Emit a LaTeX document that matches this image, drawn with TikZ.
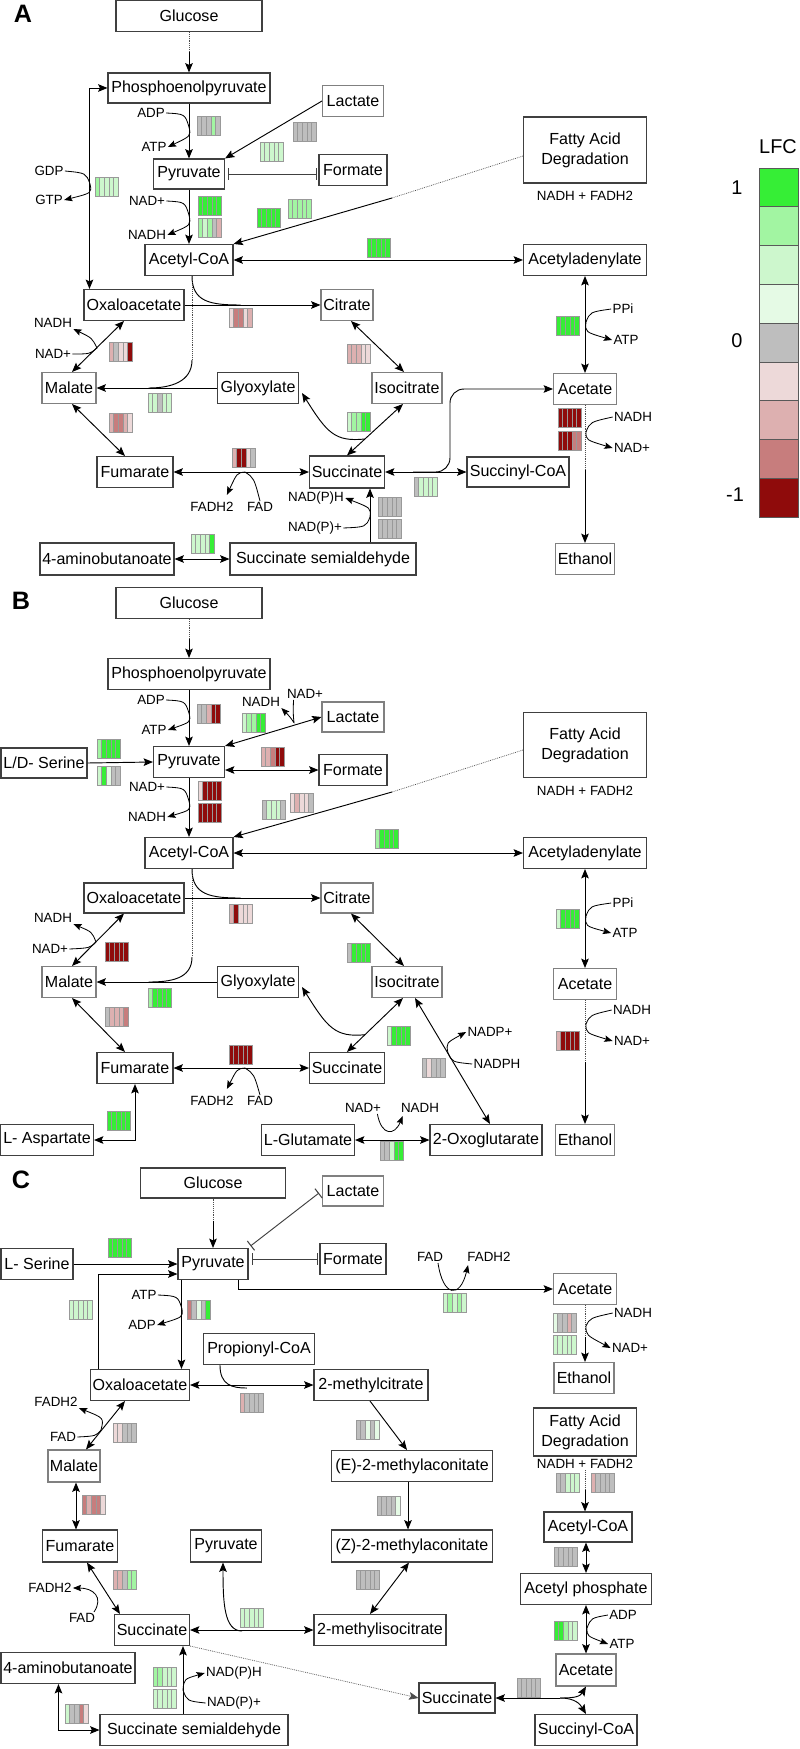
\documentclass[tikz,border=0pt]{standalone}
\usepackage{fontspec}
\setmainfont{Liberation Sans}
\usepackage{xcolor}
\usetikzlibrary{arrows.meta,calc}
\definecolor{g4}{HTML}{36EE36}
\definecolor{g3}{HTML}{A2F5A2}
\definecolor{g2}{HTML}{CDF7CD}
\definecolor{g1}{HTML}{E5FAE5}
\definecolor{n0}{HTML}{BEBEBE}
\definecolor{r1}{HTML}{EDD9D9}
\definecolor{r2}{HTML}{DDB0B0}
\definecolor{r3}{HTML}{C77D7D}
\definecolor{r4}{HTML}{8F0B0B}
% one LFC bar: left, top, five stripe colours
\newcommand{\lfcbar}[3]{%
  \foreach \cl [count=\i from 0] in {#3}
    \filldraw[fill=\cl,draw=black!40,line width=0.3pt] (#1+\i*4.6,#2) rectangle ++(4.6,19);
}

\begin{document}
\begin{tikzpicture}[x=0.03cm,y=-0.03cm,
  >={Stealth[length=8pt,width=6.5pt,inset=1.5pt]},
  met/.style={draw=black!75,line width=0.9pt,inner sep=0pt,
    minimum height=0.93cm,font=\fontsize{13.7}{17}\selectfont},
  metl/.style={met,draw=black!50},
  mw/.style={minimum width=#1*0.03cm},
  mh/.style={minimum height=#1*0.03cm},
  lab/.style={inner sep=1pt,font=\fontsize{11.4}{13}\selectfont},
  leg/.style={inner sep=0pt,font=\fontsize{17}{18}\selectfont},
  panel/.style={inner sep=0pt,font=\bfseries\fontsize{21.5}{22}\selectfont},
  rxn/.style={->,line width=0.8pt},
  both/.style={<->,line width=0.8pt},
  cof/.style={-{Stealth[length=7pt,width=5.5pt,inset=1.2pt]},line width=0.7pt},
  dot/.style={line width=0.6pt,dash pattern=on 0.7pt off 0.9pt,draw=black!70},
  inh/.style={{Bar[width=10pt,line width=0.9pt]}-{Bar[width=10pt,line width=0.9pt]},draw=black!75,line width=0.8pt}]
\useasboundingbox (0,0) rectangle (799,1749);

% ---------------- A ----------------
\node[panel] (pA) at (23,14) {A};
\node[met,mw=146] (glcA) at (189,16) {Glucose};
\node[met,mw=162,mh=30] (pepA) at (189,88) {Phosphoenolpyruvate};
\node[metl,mw=61] (latA) at (353,101) {Lactate};
\node[met,mw=71,mh=30] (pyrA) at (189,174) {Pyruvate};
\node[met,mw=68] (forA) at (353,170) {Formate};
\node[met,mw=123,mh=66,align=center] (fadA) at (585,150) {Fatty Acid\\Degradation};
\node[lab] (fadtA) at (585,196) {NADH + FADH2};
\node[met,mw=88] (acoA) at (189,260) {Acetyl-CoA};
\node[met,mw=123] (aadA) at (585,260) {Acetyladenylate};
\node[met,mw=100] (oaaA) at (134,305) {Oxaloacetate};
\node[metl,mw=52] (citA) at (347,305) {Citrate};
\node[metl,mw=54] (malA) at (69,388) {Malate};
\node[met,mw=81] (glxA) at (258,388) {Glyoxylate};
\node[metl,mw=70] (icitA) at (407,388) {Isocitrate};
\node[metl,mw=63] (actA) at (585,389) {Acetate};
\node[met,mw=76] (fumA) at (135,472) {Fumarate};
\node[met,mw=75,mh=32] (sucA) at (347,472) {Succinate};
\node[met,mw=102,mh=30] (scoA) at (518,472) {Succinyl-CoA};
\node[met,mw=134,mh=32] (gabA) at (107,559) {4-aminobutanoate};
\node[met,mw=186,mh=32] (ssaA) at (323,559) {Succinate semialdehyde};
\node[metl,mw=59] (ethA) at (585,559) {Ethanol};
\node[lab] (adpA) at (151,113) {ADP};
\node[lab] (atpA) at (154,147) {ATP};
\node[lab] (gdpA) at (49,171) {GDP};
\node[lab] (gtpA) at (49,200) {GTP};
\node[lab] (nadA1) at (147,201) {NAD+};
\node[lab] (nadhA1) at (147,235) {NADH};
\node[lab] (ppiA) at (623,309) {PPi};
\node[lab] (atpA2) at (626,340) {ATP};
\node[lab] (nadhA2) at (53,323) {NADH};
\node[lab] (nadA2) at (53,354) {NAD+};
\node[lab] (nadhA3) at (633,417) {NADH};
\node[lab] (nadA3) at (632,448) {NAD+};
\node[lab] (fadhA) at (212,507) {FADH2};
\node[lab] (fadlA) at (260,507) {FAD};
\node[lab] (npdhA) at (316,498) {NAD(P)H};
\node[lab] (npdA) at (315,528) {NAD(P)+};
% glycolysis side
\draw[dot] (glcA.south) -- ++(0,20) coordinate (gpA);
\draw[rxn] (gpA) -- (pepA.north);
\draw[rxn] (pepA.south) -- (pyrA.north);
\draw[cof] (adpA.east) .. controls (185,114) .. (189,127) .. controls (191,136) .. (atpA.east);
\draw[rxn] (latA.west) -- (pyrA.north east);
\draw[inh] ($(pyrA.east)+(3,0)$) -- ($(pyrA.east -| forA.west)+(-1,0)$);
\draw[both] ($(oaaA.north west)+(6,0)$) |- (pepA.west);
\draw[cof] (gdpA.east) .. controls (86,173) .. (90,184) .. controls (92,193) .. (gtpA.east);
\draw[rxn] (pyrA.south) -- (acoA.north);
\draw[cof] (nadA1.east) .. controls (185,202) .. (189,215) .. controls (191,225) .. (nadhA1.east);
\draw[dot] ($(fadA.west)+(0,6)$) -- (392,198) coordinate (fdA);
\draw[rxn] (fdA) -- (acoA.north east);
\draw[both] (acoA.east) -- (aadA.west);
\draw[both] (aadA.south) -- (actA.north);
\draw[cof] (ppiA.west) .. controls (590,312) .. (586,322) .. controls (585,332) .. (atpA2.west);
\draw[dot] (actA.south) -- ++(0,65) coordinate (aeA);
\draw[rxn] (aeA) -- (ethA.north);
\draw[cof] (nadhA3.west) .. controls (590,422) .. (586,432) .. controls (586,440) .. (nadA3.west);
% cycle
\draw[rxn] (oaaA.east) -- (citA.west);
\draw[line width=0.8pt] ($(acoA.south)+(3,0)$) .. controls +(0,26) and +(-30,0) .. ($(oaaA.east)+(56,0)$);
\draw[rxn] (glxA.west) -- (malA.east);
\draw[dot] ($(acoA.south)+(3,0)$) -- ++(0,84) coordinate (dkA);
\draw[line width=0.8pt] (dkA) .. controls +(0,22) and +(22,0) .. ($(malA.east)+(52,0)$);
\draw[both] ($(malA.north)+(3,0)$) -- ($(oaaA.south)+(-10,0)$);
\draw[cof] (nadA2.east) .. controls (90,354) .. (97,348) .. controls (92,338) .. (nadhA2.south east);
\draw[both] ($(malA.south)+(3,0)$) -- ($(fumA.north)+(-10,0)$);
\draw[both] (fumA.east) -- (sucA.west);
\draw[cof] (fadlA.north) .. controls (254,478) .. (245,472) .. controls (237,473) .. ($(fadhA.north east)+(-8,-6)$);
\draw[both] ($(citA.south)+(4,0)$) -- ($(icitA.north)+(-3,0)$);
\coordinate (isA) at ($(icitA.south)+(-4,0)$);
\draw[both] (isA) -- (sucA.north);
\draw[rxn] ($(isA)!0.68!(sucA.north)$) .. controls +(-30,3) and +(25,40) .. ($(glxA.east)+(3,5)$);
\draw[both] (sucA.east) -- (scoA.west);
\draw[rxn,rounded corners=12pt] ($(sucA.east)+(28,0)$) -| ($(actA.west)+(-103,0)$) -- (actA.west);
\coordinate (ssA) at ($(ssaA.north)+(47,0)$);
\draw[rxn] (ssA) -- (ssA |- sucA.south);
\draw[cof] (npdA.east) .. controls (366,527) .. (370,517) .. controls (371,508) .. (npdhA.east);
\draw[both] (gabA.east) -- (ssaA.west);
\lfcbar{197}{116}{n0,n0,n0,g3,n0}
\lfcbar{293}{122}{n0,n0,n0,n0,n0}
\lfcbar{260}{142}{g2,g2,g2,g2,g2}
\lfcbar{95}{177}{g3,g2,g2,g2,g2}
\lfcbar{198}{196}{g4,g4,g4,g4,g4}
\lfcbar{198}{218}{g3,g2,g3,n0,r2}
\lfcbar{257}{208}{g4,g4,g4,g4,g4}
\lfcbar{288}{199}{g3,g3,g3,g3,g3}
\lfcbar{367}{238}{g4,g4,g4,g4,g4}
\lfcbar{556}{316}{g4,g4,g4,g4,g4}
\lfcbar{229}{308}{r1,r3,r3,r1,r2}
\lfcbar{109}{342}{r2,n0,r1,r1,r4}
\lfcbar{148}{393}{g2,g2,n0,g2,g2}
\lfcbar{109}{413}{r2,r3,r3,r2,r1}
\lfcbar{347}{344}{r2,r2,r2,r1,r1}
\lfcbar{347}{412}{g2,g3,g3,g4,g4}
\lfcbar{232}{448}{r2,r4,r4,r1,n0}
\lfcbar{558}{408}{r4,r4,r4,r4,r4}
\lfcbar{558}{431}{r4,r4,r4,r3,r3}
\lfcbar{414}{477}{n0,g2,g2,g2,g2}
\lfcbar{378}{497}{n0,n0,n0,n0,n0}
\lfcbar{378}{519}{n0,n0,n0,n0,n0}
\lfcbar{191}{534}{g2,g2,g2,g2,g4}

% ---------------- B ----------------
\node[panel] (pB) at (21,601) {B};
\node[met,mw=146] (glcB) at (189,603) {Glucose};
\node[met,mw=162] (pepB) at (189,674) {Phosphoenolpyruvate};
\node[metl,mw=62,mh=30] (latB) at (353,717) {Lactate};
\node[met,mw=86,mh=30] (serB) at (44,763) {L/D- Serine};
\node[met,mw=71] (pyrB) at (189,762) {Pyruvate};
\node[met,mw=68] (forB) at (353,770) {Formate};
\node[met,mw=123,mh=65,align=center] (fadB) at (585,745) {Fatty Acid\\Degradation};
\node[lab] (fadtB) at (585,791) {NADH + FADH2};
\node[met,mw=88] (acoB) at (189,853) {Acetyl-CoA};
\node[met,mw=123] (aadB) at (585,853) {Acetyladenylate};
\node[met,mw=100,mh=30] (oaaB) at (134,898) {Oxaloacetate};
\node[metl,mw=52,mh=30] (citB) at (347,898) {Citrate};
\node[metl,mw=54] (malB) at (69,982) {Malate};
\node[met,mw=81] (glxB) at (258,982) {Glyoxylate};
\node[metl,mw=70] (icitB) at (407,982) {Isocitrate};
\node[metl,mw=63] (actB) at (585,984) {Acetate};
\node[met,mw=76] (fumB) at (135,1068) {Fumarate};
\node[met,mw=75] (sucB) at (347,1068) {Succinate};
\node[met,mw=93] (aspB) at (47,1140) {L- Aspartate};
\node[met,mw=93] (gluB) at (308,1140) {L-Glutamate};
\node[met,mw=112] (oxgB) at (486,1140) {2-Oxoglutarate};
\node[metl,mw=59] (ethB) at (585,1140) {Ethanol};
\node[lab] (adpB) at (151,700) {ADP};
\node[lab] (atpB) at (154,730) {ATP};
\node[lab] (nadhB1) at (261,702) {NADH};
\node[lab] (nadB1) at (305,694) {NAD+};
\node[lab] (nadB2) at (147,787) {NAD+};
\node[lab] (nadhB2) at (147,817) {NADH};
\node[lab] (ppiB) at (623,903) {PPi};
\node[lab] (atpB2) at (625,933) {ATP};
\node[lab] (nadhB3) at (53,918) {NADH};
\node[lab] (nadB3) at (50,949) {NAD+};
\node[lab] (nadhB4) at (632,1010) {NADH};
\node[lab] (nadB4) at (632,1041) {NAD+};
\node[lab] (fadhB) at (212,1101) {FADH2};
\node[lab] (fadlB) at (260,1101) {FAD};
\node[lab] (nadpB) at (490,1032) {NADP+};
\node[lab] (nadphB) at (497,1064) {NADPH};
\node[lab] (nadB5) at (363,1108) {NAD+};
\node[lab] (nadhB5) at (420,1108) {NADH};
% glycolysis side
\draw[dot] (glcB.south) -- ++(0,20) coordinate (gpB);
\draw[rxn] (gpB) -- (pepB.north);
\draw[rxn] (pepB.south) -- (pyrB.north);
\draw[cof] (adpB.east) .. controls (185,701) .. (189,713) .. controls (191,722) .. (atpB.east);
\draw[rxn] (serB.east) -- (pyrB.west);
\draw[both] (latB.west) -- (pyrB.north east);
\draw[cof] ($(nadB1.south west)+(8,0)$) .. controls +(-2,30) and +(18,18) .. (nadhB1.south east);
\draw[both] (pyrB.east |- forB.west) -- (forB.west);
\draw[rxn] (pyrB.south) -- (acoB.north);
\draw[cof] (nadB2.east) .. controls (185,788) .. (189,801) .. controls (191,810) .. (nadhB2.east);
\draw[dot] ($(fadB.west)+(0,5)$) -- (392,792) coordinate (fdB);
\draw[rxn] (fdB) -- (acoB.north east);
\draw[both] (acoB.east) -- (aadB.west);
\draw[both] (aadB.south) -- (actB.north);
\draw[cof] (ppiB.west) .. controls (590,906) .. (586,916) .. controls (585,926) .. (atpB2.west);
\draw[dot] (actB.south) -- ++(0,62) coordinate (aeB);
\draw[rxn] (aeB) -- (ethB.north);
\draw[cof] (nadhB4.west) .. controls (590,1015) .. (586,1024) .. controls (586,1033) .. (nadB4.west);
% cycle
\draw[rxn] (oaaB.east) -- (citB.west);
\draw[line width=0.8pt] ($(acoB.south)+(3,0)$) .. controls +(0,26) and +(-30,0) .. ($(oaaB.east)+(56,0)$);
\draw[rxn] (glxB.west) -- (malB.east);
\draw[dot] ($(acoB.south)+(3,0)$) -- ++(0,88) coordinate (dkB);
\draw[line width=0.8pt] (dkB) .. controls +(0,22) and +(22,0) .. ($(malB.east)+(52,0)$);
\draw[both] ($(malB.north)+(3,0)$) -- ($(oaaB.south)+(-10,0)$);
\draw[cof] (nadB3.east) .. controls (90,948) .. (96,942) .. controls (92,932) .. (nadhB3.south east);
\draw[both] ($(malB.south)+(3,0)$) -- ($(fumB.north)+(-10,0)$);
\draw[both] (fumB.east) -- (sucB.west);
\draw[cof] (fadlB.north) .. controls (254,1074) .. (245,1068) .. controls (237,1069) .. ($(fadhB.north east)+(-8,-6)$);
\draw[both] (fumB.south) |- (aspB.east);
\draw[both] ($(citB.south)+(4,0)$) -- ($(icitB.north)+(-3,0)$);
\coordinate (isB) at ($(icitB.south)+(-4,0)$);
\draw[both] (isB) -- (sucB.north);
\draw[rxn] ($(isB)!0.68!(sucB.north)$) .. controls +(-30,3) and +(25,40) .. ($(glxB.east)+(3,5)$);
\draw[both] ($(icitB.south)+(8,0)$) -- ($(oxgB.north)+(4,0)$);
\draw[cof] (nadphB.west) .. controls (452,1062) .. (448,1053) .. controls (446,1043) .. (nadpB.west);
\draw[both] (gluB.east) -- (oxgB.west);
\draw[cof] ($(nadB5.south east)+(-5,0)$) .. controls +(4,22) and +(-8,20) .. ($(nadhB5.south west)+(3,2)$);
\lfcbar{197}{704}{n0,n0,r2,r4,r4}
\lfcbar{242}{713}{g2,g3,g3,g4,g4}
\lfcbar{97}{739}{g3,g4,g4,g4,g4}
\lfcbar{97}{766}{g2,g4,g1,n0,n0}
\lfcbar{261}{747}{r2,r2,r3,r4,r4}
\lfcbar{198}{781}{r1,r4,r4,r4,r4}
\lfcbar{198}{803}{r4,r4,r4,r4,r4}
\lfcbar{262}{800}{n0,g2,g2,g2,n0}
\lfcbar{290}{793}{r1,r2,r1,r1,n0}
\lfcbar{375}{829}{g3,g4,g4,g4,g4}
\lfcbar{229}{904}{r2,r4,r1,r1,r1}
\lfcbar{105}{942}{r4,r4,r4,r4,r4}
\lfcbar{148}{988}{g3,g4,g4,g4,g4}
\lfcbar{105}{1007}{n0,r2,r2,r2,r3}
\lfcbar{347}{943}{n0,g4,g4,g4,g4}
\lfcbar{387}{1026}{g2,g4,g4,g4,g4}
\lfcbar{229}{1045}{r4,r4,r4,r4,r4}
\lfcbar{107}{1111}{g4,g4,g4,g4,g4}
\lfcbar{422}{1058}{n0,r1,n0,n0,n0}
\lfcbar{380}{1141}{n0,n0,g2,g4,g4}
\lfcbar{556}{909}{g2,g4,g4,g4,g4}
\lfcbar{556}{1031}{r2,r4,r4,r4,r4}

% ---------------- C ----------------
\node[panel] (pC) at (21,1180) {C};
\node[met,mw=145,mh=30] (glcC) at (213,1183) {Glucose};
\node[metl,mw=61,mh=30] (latC) at (353,1191) {Lactate};
\node[met,mw=72] (serC) at (37,1264) {L- Serine};
\node[met,mw=70] (pyrC) at (213,1264) {Pyruvate};
\node[met,mw=66] (forC) at (353,1259) {Formate};
\node[metl,mw=63] (actC) at (585,1289) {Acetate};
\node[metl,mw=60] (ethC) at (584,1378) {Ethanol};
\node[met,mw=103,mh=48,align=center] (fadC) at (585,1432) {Fatty Acid\\Degradation};
\node[lab] (fadtC) at (585,1464) {NADH + FADH2};
\node[met,mw=99] (oaaC) at (140,1385) {Oxaloacetate};
\node[met,mw=111] (prpC) at (259,1349) {Propionyl-CoA};
\node[met,mw=114] (mcitC) at (371,1385) {2-methylcitrate};
\node[metl,mw=52,mh=32] (malC) at (74,1466) {Malate};
\node[met,mw=161] (emacC) at (412,1466) {(E)-2-methylaconitate};
\node[met,mw=88,mh=30] (acoC) at (588,1527) {Acetyl-CoA};
\node[met,mw=161,mh=32] (zmacC) at (412,1546) {(Z)-2-methylaconitate};
\node[met,mw=75,mh=32] (fumC) at (80,1546) {Fumarate};
\node[met,mw=71,mh=32] (pyrC2) at (226,1546) {Pyruvate};
\node[met,mw=131] (apC) at (586,1589) {Acetyl phosphate};
\node[met,mw=75] (sucC) at (152,1630) {Succinate};
\node[met,mw=132] (micC) at (380,1630) {2-methylisocitrate};
\node[metl,mw=60,mh=32] (actC2) at (586,1670) {Acetate};
\node[met,mw=134] (gabC) at (68,1668) {4-aminobutanoate};
\node[met,mw=76,mh=30] (sucC2) at (457,1698) {Succinate};
\node[met,mw=188] (ssaC) at (194,1730) {Succinate semialdehyde};
\node[met,mw=102] (scoC) at (586,1730) {Succinyl-CoA};
\node[lab] (atpC) at (144,1295) {ATP};
\node[lab] (adpC) at (142,1325) {ADP};
\node[lab] (fadlC) at (430,1257) {FAD};
\node[lab] (fadhC) at (489,1257) {FADH2};
\node[lab] (nadhC) at (633,1313) {NADH};
\node[lab] (nadC) at (630,1348) {NAD+};
\node[lab] (fadhC2) at (56,1402) {FADH2};
\node[lab] (fadlC2) at (63,1437) {FAD};
\node[lab] (fadhC3) at (50,1588) {FADH2};
\node[lab] (fadlC3) at (82,1618) {FAD};
\node[lab] (npdhC) at (234,1673) {NAD(P)H};
\node[lab] (npdC) at (234,1703) {NAD(P)+};
\node[lab] (adpC2) at (623,1615) {ADP};
\node[lab] (atpC2) at (622,1644) {ATP};
% pyruvate node
\draw[dot] (glcC.south) -- ++(0,22) coordinate (gpC);
\draw[rxn] (gpC) -- (pyrC.north);
\draw[inh] ($(latC.west)+(-3,2)$) -- ($(pyrC.north east)+(2,-2)$);
\draw[inh] ($(pyrC.east |- forC.west)+(3,0)$) -- ($(forC.west)+(-1,0)$);
\draw[rxn] (serC.east) -- (pyrC.west);
\draw[rxn] ($(oaaC.north west)+(8,0)$) |- ($(pyrC.west)+(0,10)$);
\coordinate (poC) at ($(pyrC.south west)+(4,0)$);
\draw[rxn] (poC) -- (poC |- oaaC.north);
\draw[cof] (atpC.east) .. controls (178,1296) .. (182,1309) .. controls (183,1317) .. (adpC.east);
\draw[rxn] ($(pyrC.south east)+(-10,0)$) |- (actC.west);
\draw[cof] ($(fadlC.south)+(8,0)$) .. controls +(5,34) and +(-8,34) .. ($(fadhC.south west)+(2,2)$);
\draw[dot] (actC.south) -- ++(0,32) coordinate (aeC);
\draw[rxn] (aeC) -- (aeC |- ethC.north);
\draw[cof] (nadhC.west) .. controls (590,1318) .. (586,1326) .. controls (586,1335) .. (nadC.west);
% right column
\draw[dot] (fadtC.south) -- ++(0,20) coordinate (fcC);
\draw[rxn] (fcC) -- (fcC |- acoC.north);
\draw[both] (acoC.south -| apC.north) -- (apC.north);
\draw[both] (apC.south) -- (actC2.north);
\draw[cof] (adpC2.west) .. controls (591,1618) .. (587,1628) .. controls (587,1636) .. (atpC2.west);
\coordinate (fkC) at (560,1698);
\draw[rxn] (fkC) -- (sucC2.east);
\draw[rxn] (fkC) .. controls +(15,0) and +(-6,10) .. (actC2.south);
\draw[rxn] (fkC) .. controls +(15,0) and +(-6,-10) .. (scoC.north);
\draw[rxn,dot] (sucC.south east) -- (sucC2.west);
% methylcitrate cycle
\draw[both] (oaaC.east) -- (mcitC.west);
\draw[line width=0.8pt] ($(prpC.south west)+(17,0)$) .. controls +(0,20) and +(-15,0) .. ($(prpC.south west)+(44,23)$);
\draw[both] ($(malC.north)+(12,0)$) -- ($(oaaC.south)+(-15,0)$);
\draw[cof] (fadlC2.east) .. controls (96,1436) .. (101,1430) .. controls (104,1418) .. (fadhC2.south east);
\draw[rxn] ($(mcitC.south)+(-1,0)$) -- ($(emacC.north)+(-5,0)$);
\draw[rxn] ($(emacC.south)+(-4,0)$) -- ($(zmacC.north)+(-4,0)$);
\draw[both] ($(zmacC.south)+(-3,0)$) -- ($(micC.north)+(-10,0)$);
\draw[both] ($(malC.south)+(2,0)$) -- ($(fumC.north)+(-4,0)$);
\draw[both] ($(fumC.south)+(7,0)$) -- ($(sucC.north west)+(6,0)$);
\draw[cof] ($(fadlC3.north)+(12,0)$) .. controls +(10,-15) and +(20,0) .. (fadhC3.east);
\draw[both] (sucC.east) -- (micC.west);
\draw[rxn] ($(sucC.east)+(52,1)$) .. controls +(-18,0) and +(0,40) .. ($(pyrC2.south)+(-3,0)$);
\coordinate (ssC) at ($(ssaC.north)+(-11,0)$);
\draw[rxn] (ssC) -- (ssC |- sucC.south);
\draw[cof] (npdC.west) .. controls (187,1701) .. (183,1690) .. controls (184,1679) .. (npdhC.west);
\draw[both] ($(gabC.south west)+(58,0)$) |- (ssaC.west);
\lfcbar{108}{1238}{g4,g4,g4,g4,g4}
\lfcbar{69}{1300}{g2,g2,g2,g2,g2}
\lfcbar{187}{1300}{r3,n0,g1,n0,g4}
\lfcbar{443}{1293}{g2,g3,g2,g3,g2}
\lfcbar{553}{1313}{g1,n0,n0,r2,n0}
\lfcbar{553}{1335}{g2,g2,g2,g2,g2}
\lfcbar{240}{1393}{r2,n0,n0,n0,n0}
\lfcbar{113}{1423}{r1,r1,n0,n0,n0}
\lfcbar{356}{1420}{n0,n0,g1,n0,g1}
\lfcbar{556}{1473}{n0,n0,g2,g2,g2}
\lfcbar{591}{1473}{r2,n0,n0,n0,n0}
\lfcbar{377}{1496}{n0,n0,n0,n0,g1}
\lfcbar{82}{1495}{r3,r2,r3,r3,r1}
\lfcbar{554}{1547}{n0,n0,n0,n0,n0}
\lfcbar{113}{1570}{r2,r2,n0,g3,g3}
\lfcbar{356}{1570}{n0,n0,n0,n0,n0}
\lfcbar{554}{1621}{g4,g4,g3,g2,g2}
\lfcbar{240}{1608}{g2,g2,g2,g2,g2}
\lfcbar{153}{1667}{g3,g3,g2,g2,g2}
\lfcbar{153}{1689}{g2,g2,g2,g2,g2}
\lfcbar{65}{1704}{g2,n0,n0,r3,r1}
\lfcbar{517}{1678}{n0,n0,n0,n0,n0}

% ---------------- legend ----------------
\node[leg] (lfcT) at (778,147) {LFC};
\node[leg] (lfcHi) at (737,188) {1};
\node[leg] (lfcMid) at (737,341) {0};
\node[leg] (lfcLo) at (735,495) {-1};
\foreach \cl [count=\i from 0] in {g4,g3,g2,g1,n0,r1,r2,r3,r4}
  \filldraw[fill=\cl,draw=black!65,line width=0.6pt] (759,168+\i*38.8) rectangle ++(39,38.8);
\end{tikzpicture}
\end{document}
